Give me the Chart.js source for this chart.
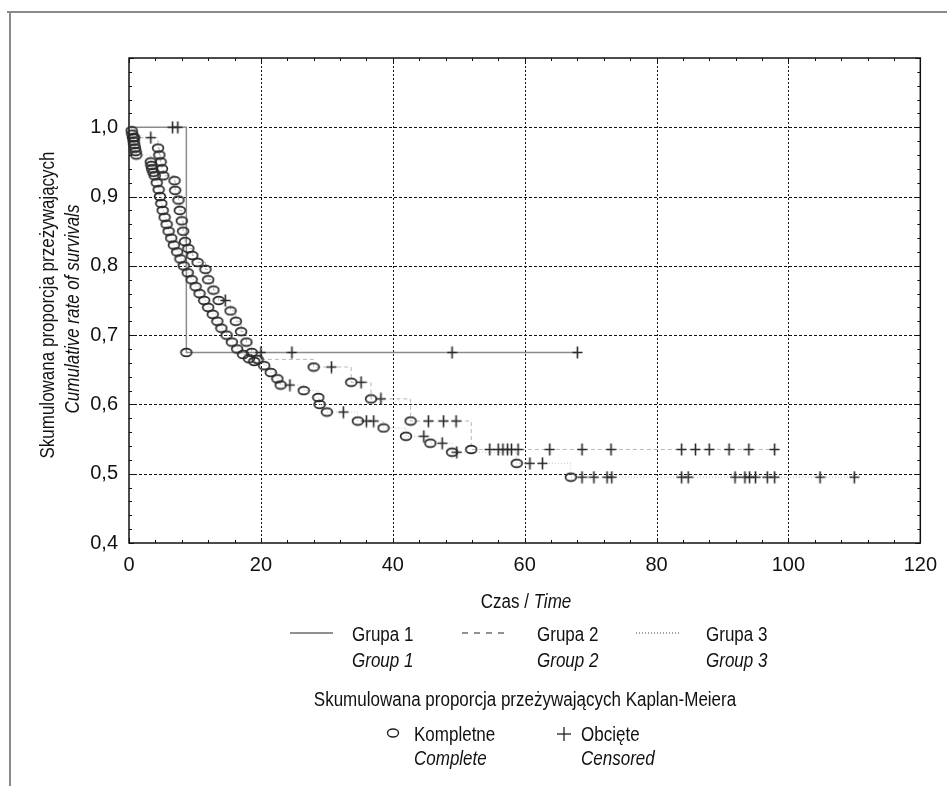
<!DOCTYPE html>
<html>
<head>
<meta charset="utf-8">
<script src="https://cdn.jsdelivr.net/npm/chart.js@4.4.1/dist/chart.umd.min.js"></script>
<style>
  body { margin: 0; background: #fff; }
  #wrap { position: relative; width: 947px; height: 786px; overflow: hidden;
          font-family: 'Liberation Sans', Arial, sans-serif; color: #111; }
  canvas { position: absolute; left: 0; top: 0; }
  .t { position: absolute; white-space: nowrap; font-size: 20px; line-height: 1; }
  .c { transform: translate(-50%, -50%) scaleX(0.85); }
  .l { transform: translateY(-50%) scaleX(0.85); transform-origin: 0 50%; }
  .i { font-style: italic; }
  .rot { transform: translate(-50%, -50%) rotate(-90deg) scaleX(0.85); }
  .frameTop { position: absolute; left: 7px; top: 11px; width: 940px; height: 2px; background: #8a8a8a; }
  .frameLeft { position: absolute; left: 9px; top: 11px; width: 2px; height: 775px; background: #8a8a8a; }
  svg { position: absolute; overflow: visible; }
</style>
</head>
<body>
<div id="wrap">
  <div class="frameTop"></div>
  <div class="frameLeft"></div>
  <canvas id="kmChart" width="947" height="786"></canvas>

  <div class="t rot" style="left:47px; top:305px;">Skumulowana proporcja przeżywających</div>
  <div class="t rot i" style="left:72px; top:309px;">Cumulative rate of survivals</div>

  <div class="t c" style="left:526px; top:601px;">Czas / <span class="i">Time</span></div>

  <svg style="left:0; top:0;" width="947" height="786">
    <line x1="290" y1="633" x2="333" y2="633" stroke="#222" stroke-width="1.2"/>
    <line x1="462" y1="633" x2="506" y2="633" stroke="#222" stroke-width="1.2" stroke-dasharray="6,6"/>
    <line x1="636" y1="633" x2="681" y2="633" stroke="#444" stroke-width="1" stroke-dasharray="1,2"/>
    <ellipse cx="393" cy="733" rx="5.5" ry="4" fill="none" stroke="#222" stroke-width="1.4"/>
    <line x1="557" y1="734" x2="571" y2="734" stroke="#222" stroke-width="1.3"/>
    <line x1="564" y1="727" x2="564" y2="741" stroke="#222" stroke-width="1.3"/>
  </svg>

  <div class="t l" style="left:352px; top:634px;">Grupa 1</div>
  <div class="t l i" style="left:352px; top:660px;">Group 1</div>
  <div class="t l" style="left:537px; top:634px;">Grupa 2</div>
  <div class="t l i" style="left:537px; top:660px;">Group 2</div>
  <div class="t l" style="left:706px; top:634px;">Grupa 3</div>
  <div class="t l i" style="left:706px; top:660px;">Group 3</div>

  <div class="t c" style="left:525px; top:699px;">Skumulowana proporcja przeżywających Kaplan-Meiera</div>

  <div class="t l" style="left:414px; top:734px;">Kompletne</div>
  <div class="t l i" style="left:414px; top:758px;">Complete</div>
  <div class="t l" style="left:581px; top:734px;">Obcięte</div>
  <div class="t l i" style="left:581px; top:758px;">Censored</div>
</div>

<script>
// group 1 - small group, solid line
const g1EventT = [8.7];
const g1EventS = [0.675];
const g1CensT = [6.6, 7.4, 20.0, 24.7, 49.0, 68.0];
const g1CensS = [1.0, 1.0, 0.675, 0.675, 0.675, 0.675];

// group 2 - dashed line, upper tail
const g2EventT = [0.8, 4.4, 4.6, 4.8, 5.0, 5.2, 6.9, 7.0, 7.5, 7.7,
                  8.0, 8.2, 8.5, 9.0, 9.6, 10.4, 11.6, 12.0, 12.8, 13.6,
                  15.4, 16.2, 17.0, 17.8, 18.6, 19.5, 28.0, 33.7, 36.7, 42.7,
                  51.9];
const g2EventS = [0.985, 0.97, 0.96, 0.95, 0.94, 0.93, 0.923, 0.909, 0.895, 0.88,
                  0.865, 0.85, 0.835, 0.825, 0.815, 0.805, 0.795, 0.78, 0.765, 0.75,
                  0.735, 0.72, 0.705, 0.69, 0.675, 0.665, 0.654, 0.632, 0.608, 0.576,
                  0.535];
const g2CensT = [3.3, 14.6, 30.7, 35.2, 38.2, 45.4, 47.7, 49.6,
                 54.7, 56.0, 56.7, 57.4, 58.0, 59.0, 63.8, 68.7, 73.1,
                 83.8, 85.9, 88.0, 91.0, 94.0, 97.9];
const g2CensS = [0.985, 0.75, 0.654, 0.632, 0.608, 0.576, 0.576, 0.576,
                 0.535, 0.535, 0.535, 0.535, 0.535, 0.535, 0.535, 0.535, 0.535,
                 0.535, 0.535, 0.535, 0.535, 0.535, 0.535];

// group 3 - dotted line, lower tail
const g3EventT = [0.4, 0.5, 0.6, 0.7, 0.8, 0.9, 1.0, 1.1, 3.3, 3.4,
                  3.5, 3.7, 3.9, 4.2, 4.5, 4.7, 4.9, 5.1, 5.4, 5.7,
                  6.0, 6.4, 6.8, 7.3, 7.8, 8.3, 8.9, 9.5, 10.1, 10.7,
                  11.4, 12.0, 12.7, 13.4, 14.0, 14.8, 15.6, 16.4, 17.3, 18.2,
                  19.0, 20.5, 21.5, 22.5, 23.0, 26.5, 28.7, 28.9, 30.0, 34.7,
                  38.6, 42.0, 45.7, 49.0, 58.8, 67.0];
const g3EventS = [0.995, 0.99, 0.985, 0.98, 0.975, 0.97, 0.965, 0.96, 0.95, 0.945,
                  0.94, 0.935, 0.93, 0.92, 0.91, 0.90, 0.89, 0.88, 0.87, 0.86,
                  0.85, 0.84, 0.83, 0.82, 0.81, 0.80, 0.79, 0.78, 0.77, 0.76,
                  0.75, 0.74, 0.73, 0.72, 0.71, 0.70, 0.69, 0.68, 0.672, 0.666,
                  0.662, 0.656, 0.646, 0.637, 0.628, 0.62, 0.61, 0.60, 0.589, 0.576,
                  0.566, 0.554, 0.544, 0.531, 0.515, 0.495];
const g3CensT = [24.4, 32.5, 36.0, 37.1, 44.7, 47.5, 49.7, 60.8, 62.7,
                 68.7, 70.5, 72.5, 73.2, 83.8, 84.8, 91.9, 93.4, 94.1, 95.0,
                 96.8, 97.9, 104.8, 110.0];
const g3CensS = [0.628, 0.589, 0.576, 0.576, 0.554, 0.544, 0.531, 0.515, 0.515,
                 0.495, 0.495, 0.495, 0.495, 0.495, 0.495, 0.495, 0.495, 0.495, 0.495,
                 0.495, 0.495, 0.495, 0.495];

const xTickStep = 20, xMinorStep = 4;
const yTickStep = 0.1, yMinorStep = 0.02;

const FONT = "'Liberation Sans', Arial, sans-serif";

function toPoints(ts, ss) {
  return ts.map((t, i) => ({x: t, y: ss[i]}));
}

// step curve: start at 1 and walk through events and censorings in time order
function stepPoints(et, es, ct, cs) {
  const pts = toPoints(et, es).concat(toPoints(ct, cs));
  pts.sort((a, b) => a.x - b.x);
  return [{x: 0, y: 1}].concat(pts);
}

function circleMarker() {
  const c = document.createElement('canvas');
  c.width = 14; c.height = 11;
  const g = c.getContext('2d');
  g.strokeStyle = '#2a2a2a';
  g.lineWidth = 1.7;
  g.beginPath();
  g.ellipse(7, 5.5, 5.4, 3.8, 0, 0, 2 * Math.PI);
  g.stroke();
  return c;
}

function plusMarker() {
  const c = document.createElement('canvas');
  c.width = 11; c.height = 13;
  const g = c.getContext('2d');
  g.strokeStyle = '#2a2a2a';
  g.lineWidth = 1.6;
  g.beginPath();
  g.moveTo(5.5, 0.5); g.lineTo(5.5, 12.5);
  g.moveTo(0.5, 6.5); g.lineTo(10.5, 6.5);
  g.stroke();
  return c;
}

const circleImg = circleMarker();
const plusImg = plusMarker();

function lineSet(pts, color, width, dash) {
  return {
    type: 'line', data: pts, showLine: true, stepped: true, order: 2,
    borderColor: color, borderWidth: width, borderDash: dash,
    pointRadius: 0, fill: false
  };
}

function markSet(pts, img) {
  return {
    type: 'scatter', data: pts, order: 1, clip: false,
    pointStyle: img, pointRadius: 5, pointHoverRadius: 5
  };
}

// frame, dotted grid and inward tick marks
const framePlugin = {
  id: 'frame',
  beforeDatasetsDraw(chart) {
    const {ctx, chartArea: a, scales: {x, y}} = chart;
    ctx.save();
    ctx.strokeStyle = '#111';
    ctx.lineWidth = 1;
    ctx.setLineDash([2, 2]);
    for (let v = xTickStep; v < x.max; v += xTickStep) {
      const px = Math.round(x.getPixelForValue(v)) + 0.5;
      ctx.beginPath(); ctx.moveTo(px, a.top); ctx.lineTo(px, a.bottom); ctx.stroke();
    }
    ctx.setLineDash([3, 2]);
    for (let i = 1; i < 7; i++) {
      const py = Math.round(y.getPixelForValue(0.4 + i * yTickStep)) + 0.5;
      ctx.beginPath(); ctx.moveTo(a.left, py); ctx.lineTo(a.right, py); ctx.stroke();
    }
    ctx.setLineDash([]);
    ctx.lineWidth = 1.5;
    ctx.strokeRect(a.left, a.top, a.right - a.left, a.bottom - a.top);
    ctx.lineWidth = 1;
    for (let i = 0; i <= 30; i++) {
      const v = i * xMinorStep;
      const len = v % xTickStep === 0 ? 5 : 3;
      const px = Math.round(x.getPixelForValue(v)) + 0.5;
      ctx.beginPath();
      ctx.moveTo(px, a.bottom); ctx.lineTo(px, a.bottom - len);
      ctx.moveTo(px, a.top); ctx.lineTo(px, a.top + len);
      ctx.stroke();
    }
    for (let i = 0; i <= 35; i++) {
      const len = i % 5 === 0 ? 5 : 3;
      const py = Math.round(y.getPixelForValue(0.4 + i * yMinorStep)) + 0.5;
      ctx.beginPath();
      ctx.moveTo(a.left, py); ctx.lineTo(a.left + len, py);
      ctx.moveTo(a.right, py); ctx.lineTo(a.right - len, py);
      ctx.stroke();
    }
    ctx.restore();
  }
};

document.addEventListener('DOMContentLoaded', function() {
  const ctx = document.getElementById('kmChart').getContext('2d');
  new Chart(ctx, {
    type: 'scatter',
    data: {
      datasets: [
        markSet(toPoints(g1EventT, g1EventS), circleImg),
        markSet(toPoints(g2EventT, g2EventS), circleImg),
        markSet(toPoints(g3EventT, g3EventS), circleImg),
        markSet(toPoints(g1CensT, g1CensS), plusImg),
        markSet(toPoints(g2CensT, g2CensS), plusImg),
        markSet(toPoints(g3CensT, g3CensS), plusImg),
        lineSet(stepPoints(g1EventT, g1EventS, g1CensT, g1CensS), '#8c8c8c', 1.5, []),
        lineSet(stepPoints(g2EventT, g2EventS, g2CensT, g2CensS), '#b8b8b8', 1, [4, 3]),
        lineSet(stepPoints(g3EventT, g3EventS, g3CensT, g3CensS), '#c4c4c4', 1, [1, 2])
      ]
    },
    options: {
      responsive: false,
      animation: false,
      devicePixelRatio: 1,
      layout: {
        padding: {top: 58, right: 19, left: 0, bottom: 0}
      },
      plugins: {
        legend: {display: false},
        tooltip: {enabled: false}
      },
      scales: {
        x: {
          type: 'linear', min: 0, max: 120,
          grid: {display: false, drawTicks: false},
          border: {display: false},
          ticks: {
            stepSize: xTickStep, padding: 10, color: '#111',
            font: {family: FONT, size: 20}
          },
          afterFit: function(scale) { scale.height = 243; }
        },
        y: {
          type: 'linear', min: 0.4, max: 1.1,
          grid: {display: false, drawTicks: false},
          border: {display: false},
          ticks: {
            stepSize: yTickStep, padding: 11, color: '#111',
            font: {family: FONT, size: 20},
            callback: function(value) {
              const v = Math.round(value * 10) / 10;
              if (v > 1.05) return '';
              return v.toFixed(1).replace('.', ',');
            }
          },
          afterFit: function(scale) { scale.width = 129; }
        }
      }
    },
    plugins: [framePlugin]
  });
});
</script>
</body>
</html>
